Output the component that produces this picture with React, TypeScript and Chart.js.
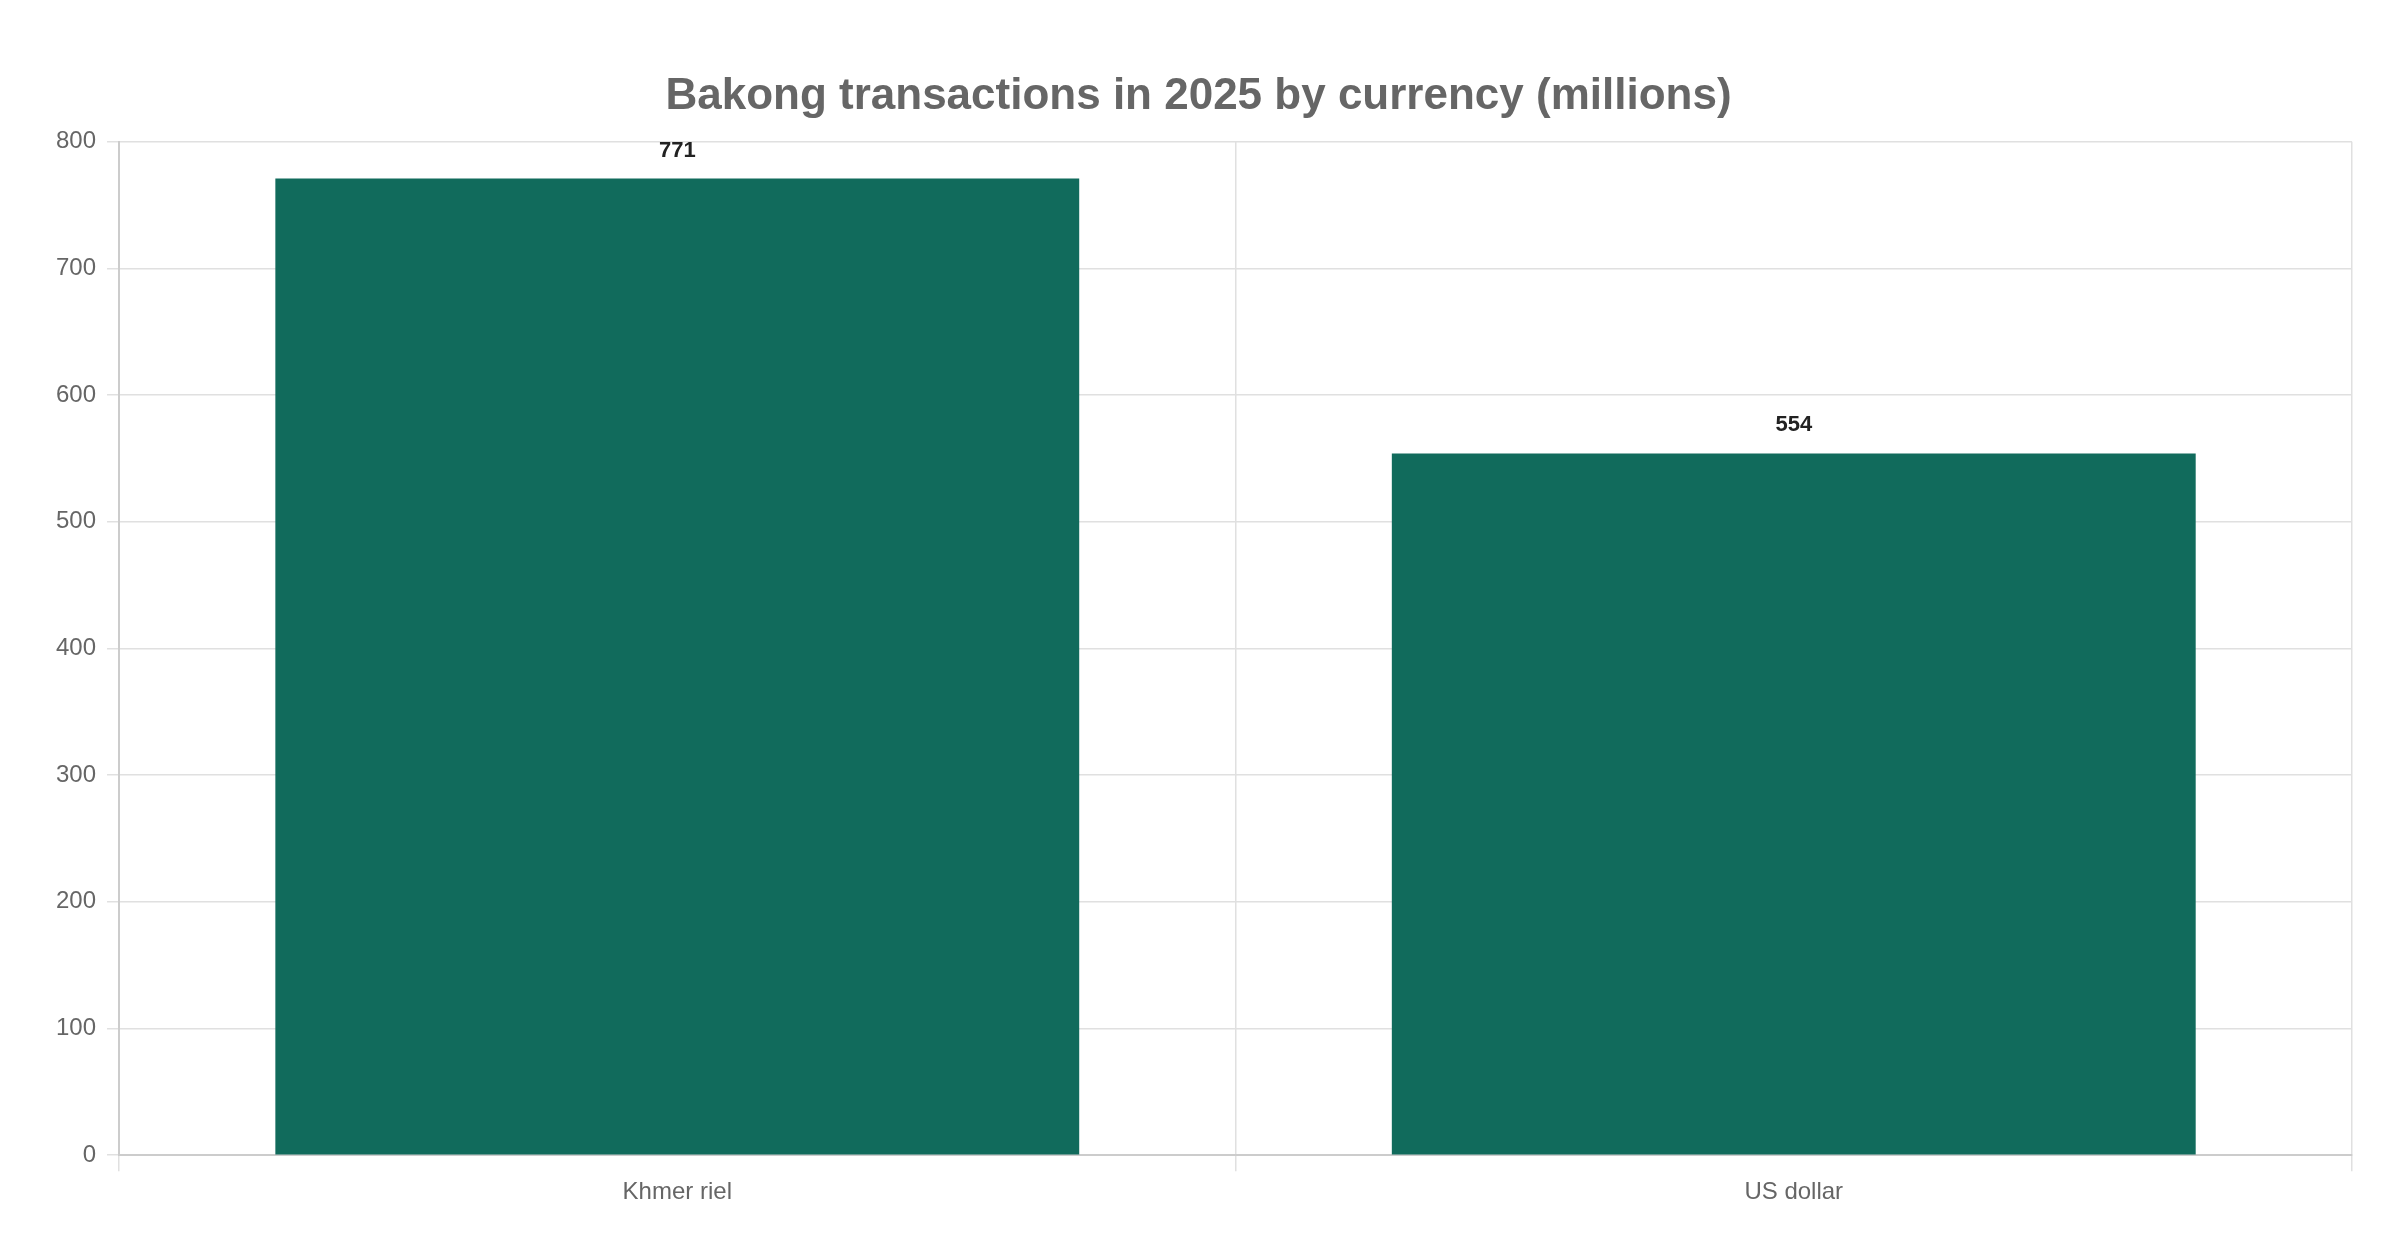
import { useEffect, useRef } from 'react';
import { Chart, registerables } from 'chart.js';

Chart.register(...registerables);

const categories = ['Khmer riel', 'US dollar'];
const transactions = [771, 554];
const yTicks = [0, 100, 200, 300, 400, 500, 600, 700, 800];

const FONT = '"Liberation Sans", Arial, sans-serif';

// draws the value above each bar
const valueLabels = {
  id: 'valueLabels',
  afterDatasetsDraw(chart: Chart) {
    const { ctx } = chart;
    const meta = chart.getDatasetMeta(0);
    ctx.save();
    ctx.font = `bold 22px ${FONT}`;
    ctx.fillStyle = '#222222';
    ctx.textAlign = 'center';
    ctx.textBaseline = 'middle';
    meta.data.forEach((bar: any, i: number) => {
      ctx.fillText(String(transactions[i]), bar.x, bar.y - 28);
    });
    ctx.restore();
  },
};

export default function App() {
  const canvasRef = useRef<HTMLCanvasElement>(null);

  useEffect(() => {
    document.body.style.margin = '0';
    if (!canvasRef.current) return;
    const chart = new Chart(canvasRef.current, {
      type: 'bar',
      data: {
        labels: categories,
        datasets: [{
          label: 'Transactions (millions)',
          data: transactions,
          backgroundColor: '#116b5c',
          borderWidth: 0,
        }],
      },
      options: {
        responsive: true,
        maintainAspectRatio: false,
        animation: false,
        layout: { padding: { top: 70, right: 48, bottom: 46, left: 45 } },
        plugins: {
          legend: { display: false },
          tooltip: { enabled: false },
          title: {
            display: true,
            text: 'Bakong transactions in 2025 by currency (millions)',
            color: '#666666',
            font: { family: FONT, size: 44, weight: 'bold' },
            padding: { top: 0, bottom: 19 },
          },
        },
        scales: {
          x: {
            grid: { color: '#e0e0e0', lineWidth: 1.5, tickLength: 16 },
            border: { color: '#cccccc', width: 2 },
            ticks: { color: '#666666', font: { family: FONT, size: 24 }, padding: 7 },
          },
          y: {
            min: 0,
            max: yTicks[yTicks.length - 1],
            afterBuildTicks: (axis: any) => { axis.ticks = yTicks.map(v => ({ value: v })); },
            grid: { color: '#e0e0e0', lineWidth: 1.5, tickLength: 12 },
            border: { color: '#cccccc', width: 2 },
            ticks: { color: '#666666', font: { family: FONT, size: 24 }, padding: 11 },
          },
        },
      },
      plugins: [valueLabels],
    });
    return () => { chart.destroy(); };
  }, []);

  return (
    <div style={{ position: 'relative', width: 2400, height: 1260 }}>
      <canvas ref={canvasRef} />
    </div>
  );
}
